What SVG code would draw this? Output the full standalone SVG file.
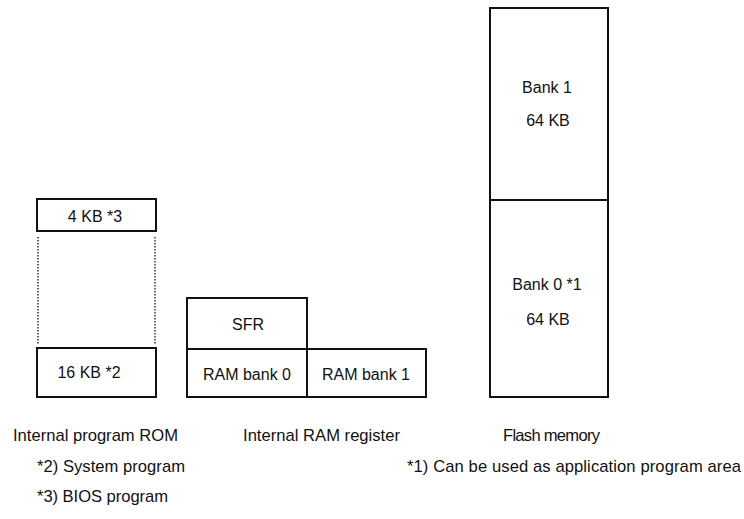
<svg xmlns="http://www.w3.org/2000/svg" width="744" height="519" viewBox="0 0 744 519">
<style>
.box{fill:#fff;stroke:#111;stroke-width:2}
.dot{stroke:#333;stroke-width:1.5;stroke-dasharray:1.5,1.5;fill:none}
text{font-family:"Liberation Sans",Arial,sans-serif;font-size:16px;fill:#111}
.c{text-anchor:middle}
.lbl{font-size:16.6px}
</style>
<rect width="744" height="519" fill="#fff"/>
<g id="rom">
<g id="rom-4kb"><rect class="box" x="37" y="199" width="119" height="32"/><text class="c" x="95" y="222">4 KB *3</text></g>
<g id="rom-16kb"><rect class="box" x="37" y="348" width="119" height="49"/><text class="c" x="89" y="378">16 KB *2</text></g>
</g>
<g id="connectors">
<line class="dot" x1="38" y1="237" x2="38" y2="344"/>
<line class="dot" x1="155" y1="237" x2="155" y2="344"/>
</g>
<g id="ram">
<g id="sfr"><rect class="box" x="187" y="298" width="120" height="51"/><text class="c" x="248" y="330">SFR</text></g>
<g id="ram0"><rect class="box" x="187" y="349" width="120" height="48"/><text class="c" x="247" y="380">RAM bank 0</text></g>
<g id="ram1"><rect class="box" x="307" y="349" width="119" height="48"/><text class="c" x="366" y="380">RAM bank 1</text></g>
</g>
<g id="flash">
<g id="bank1"><rect class="box" x="490" y="8" width="118" height="192"/><text class="c" x="547" y="93">Bank 1</text><text class="c" x="548" y="126">64 KB</text></g>
<g id="bank0"><rect class="box" x="490" y="200" width="118" height="197"/><text class="c" x="547" y="290">Bank 0 *1</text><text class="c" x="548" y="325">64 KB</text></g>
</g>
<g id="labels">
<text class="lbl" x="13" y="441" textLength="165">Internal program ROM</text>
<text class="lbl" x="243" y="441" textLength="157">Internal RAM register</text>
<text class="lbl" x="503" y="441" textLength="97">Flash memory</text>
<text class="lbl" x="37" y="472" textLength="148">*2) System program</text>
<text class="lbl" x="407" y="472" textLength="334">*1) Can be used as application program area</text>
<text class="lbl" x="37" y="502" textLength="131">*3) BIOS program</text>
</g>
</svg>
